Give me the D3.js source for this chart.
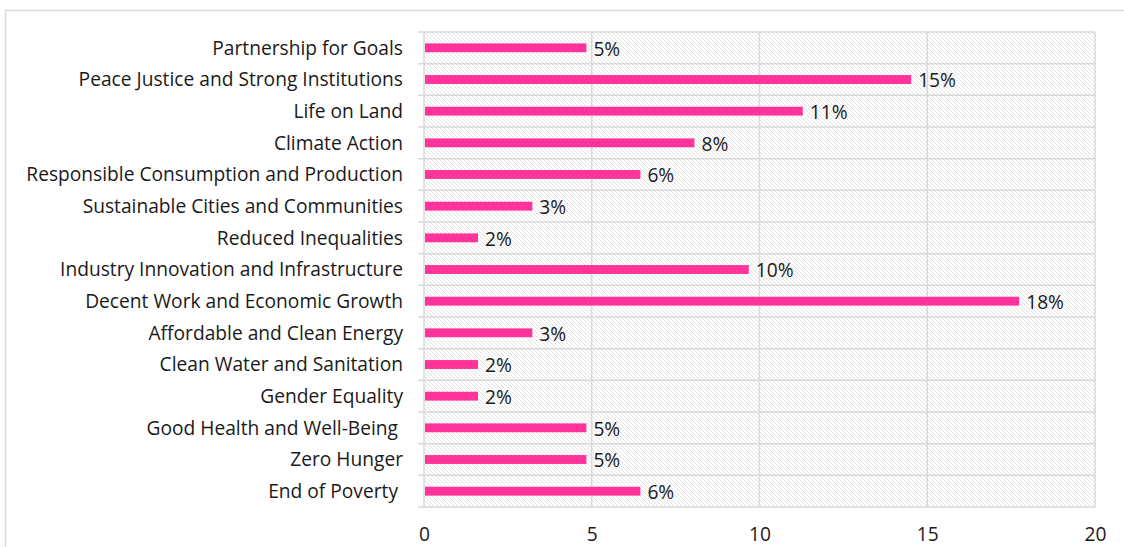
<!DOCTYPE html>
<html>
<head>
<meta charset="utf-8">
<script src="https://cdn.jsdelivr.net/npm/d3@7"></script>
<style>
  body { margin: 0; background: #fff; }
  text { font-family: "Open Sans", "Noto Sans", sans-serif; fill: #1a1a1a; white-space: pre; }
</style>
</head>
<body>
<div id="chart"></div>
<script>
// datos del gráfico (de arriba hacia abajo)
var categories = [
  "Partnership for Goals",
  "Peace Justice and Strong Institutions",
  "Life on Land",
  "Climate Action",
  "Responsible Consumption and Production",
  "Sustainable Cities and Communities",
  "Reduced Inequalities",
  "Industry Innovation and Infrastructure",
  "Decent Work and Economic Growth",
  "Affordable and Clean Energy",
  "Clean Water and Sanitation",
  "Gender Equality",
  "Good Health and Well-Being ",
  "Zero Hunger",
  "End of Poverty "
];
var values = [4.84, 14.52, 11.29, 8.06, 6.45, 3.23, 1.61, 9.68, 17.74, 3.23, 1.61, 1.61, 4.84, 4.84, 6.45];
var valueLabels = ["5%", "15%", "11%", "8%", "6%", "3%", "2%", "10%", "18%", "3%", "2%", "2%", "5%", "5%", "6%"];
var xTicks = [0, 5, 10, 15, 20];

var width = 1124,
    height = 547,
    margin = {top: 32, right: 29, bottom: 40, left: 424};

var fontSize = "19.2px";

var svg = d3.select("#chart").append("svg")
  .attr("width", width)
  .attr("height", height);

// patrón rayado del fondo
var defs = svg.append("defs");
defs.append("pattern")
  .attr("id", "hatch")
  .attr("patternUnits", "userSpaceOnUse")
  .attr("width", 4)
  .attr("height", 4)
  .append("path")
  .attr("d", "M-1,-1 L5,5 M3,-1 L5,1 M-1,3 L1,5")
  .attr("stroke", "#e0e0e0")
  .attr("stroke-width", 0.9);

// borde exterior del gráfico
svg.append("rect")
  .attr("x", 5.5).attr("y", 10.5)
  .attr("width", 1200).attr("height", 600)
  .attr("fill", "none")
  .attr("stroke", "#d9d9d9")
  .attr("stroke-width", 1.5);

var x = d3.scaleLinear()
  .domain([0, 20])
  .range([margin.left, width - margin.right]);

var y = d3.scaleBand()
  .domain(categories)
  .range([margin.top, 507])
  .paddingInner(0.72)
  .paddingOuter(0.36);

var step = y.step();

svg.append("rect")
  .attr("x", x(0)).attr("y", margin.top)
  .attr("width", x(20) - x(0)).attr("height", 507 - margin.top)
  .attr("fill", "url(#hatch)");

// líneas de la cuadrícula
svg.selectAll(".vgrid")
  .data(xTicks)
  .enter().append("line")
  .attr("x1", function(d) { return x(d); })
  .attr("x2", function(d) { return x(d); })
  .attr("y1", margin.top)
  .attr("y2", 507)
  .attr("stroke", "#d9d9d9")
  .attr("stroke-width", 1.5);

svg.selectAll(".hgrid")
  .data(d3.range(categories.length + 1))
  .enter().append("line")
  .attr("x1", x(0) - 6)
  .attr("x2", x(20))
  .attr("y1", function(i) { return margin.top + i * step; })
  .attr("y2", function(i) { return margin.top + i * step; })
  .attr("stroke", "#d9d9d9")
  .attr("stroke-width", 1.5);

// barras
svg.selectAll(".bar")
  .data(values)
  .enter().append("rect")
  .attr("x", x(0) + 1)
  .attr("y", function(d, i) { return y(categories[i]); })
  .attr("width", function(d) { return x(d) - x(0) - 1; })
  .attr("height", y.bandwidth())
  .attr("fill", "#ff3399");

// etiquetas de valores
svg.selectAll(".vlabel")
  .data(values)
  .enter().append("text")
  .attr("x", function(d) { return x(d) + 7; })
  .attr("y", function(d, i) { return y(categories[i]) + y.bandwidth() / 2; })
  .attr("dy", "0.4em")
  .style("font-size", fontSize)
  .text(function(d, i) { return valueLabels[i]; });

// etiquetas de categorías
svg.selectAll(".clabel")
  .data(categories)
  .enter().append("text")
  .attr("x", 403)
  .attr("y", function(d) { return y(d) + y.bandwidth() / 2; })
  .attr("dy", "0.36em")
  .attr("text-anchor", "end")
  .style("font-size", fontSize)
  .text(function(d) { return d; });

// eje x
var xAxis = d3.axisBottom(x).tickValues(xTicks).tickSize(0).tickPadding(0);
var gx = svg.append("g")
  .attr("transform", "translate(0," + 527 + ")")
  .call(xAxis);
gx.select(".domain").remove();
gx.selectAll("text")
  .style("font-size", fontSize)
  .style("font-family", "'Open Sans', 'Noto Sans', sans-serif")
  .attr("fill", "#1a1a1a");
</script>
</body>
</html>
